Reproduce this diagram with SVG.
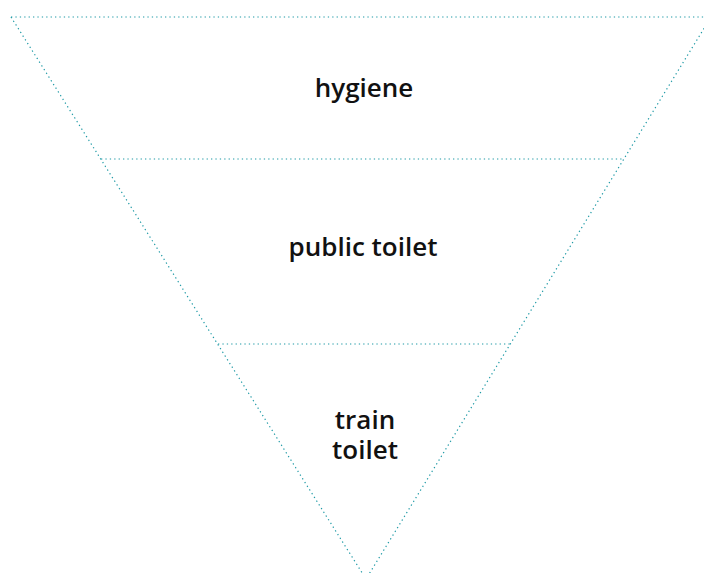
<svg xmlns="http://www.w3.org/2000/svg" width="704" height="573" viewBox="0 0 704 573">
<style>
.ln{stroke:#1f9aa6;stroke-width:1.2;stroke-dasharray:1.3 3.1;fill:none}
.t{font-family:"Open Sans",Lato,sans-serif;font-weight:600;font-size:26px;fill:#111;text-anchor:middle}
</style>
<rect width="704" height="573" fill="#fff"/>
<g id="connectors">
<path class="ln" d="M11,17 L711,17"/>
<path class="ln" d="M11,17 L366,579"/>
<path class="ln" d="M711,17 L366,579"/>
<path class="ln" d="M101,159 L623,159"/>
<path class="ln" d="M218,344 L510,344"/>
</g>
<g id="hygiene"><text class="t" x="364" y="97">hygiene</text></g>
<g id="public-toilet"><text class="t" x="363" y="256">public toilet</text></g>
<g id="train-toilet"><text class="t" x="365" y="429">train</text><text class="t" x="365" y="459">toilet</text></g>
</svg>
